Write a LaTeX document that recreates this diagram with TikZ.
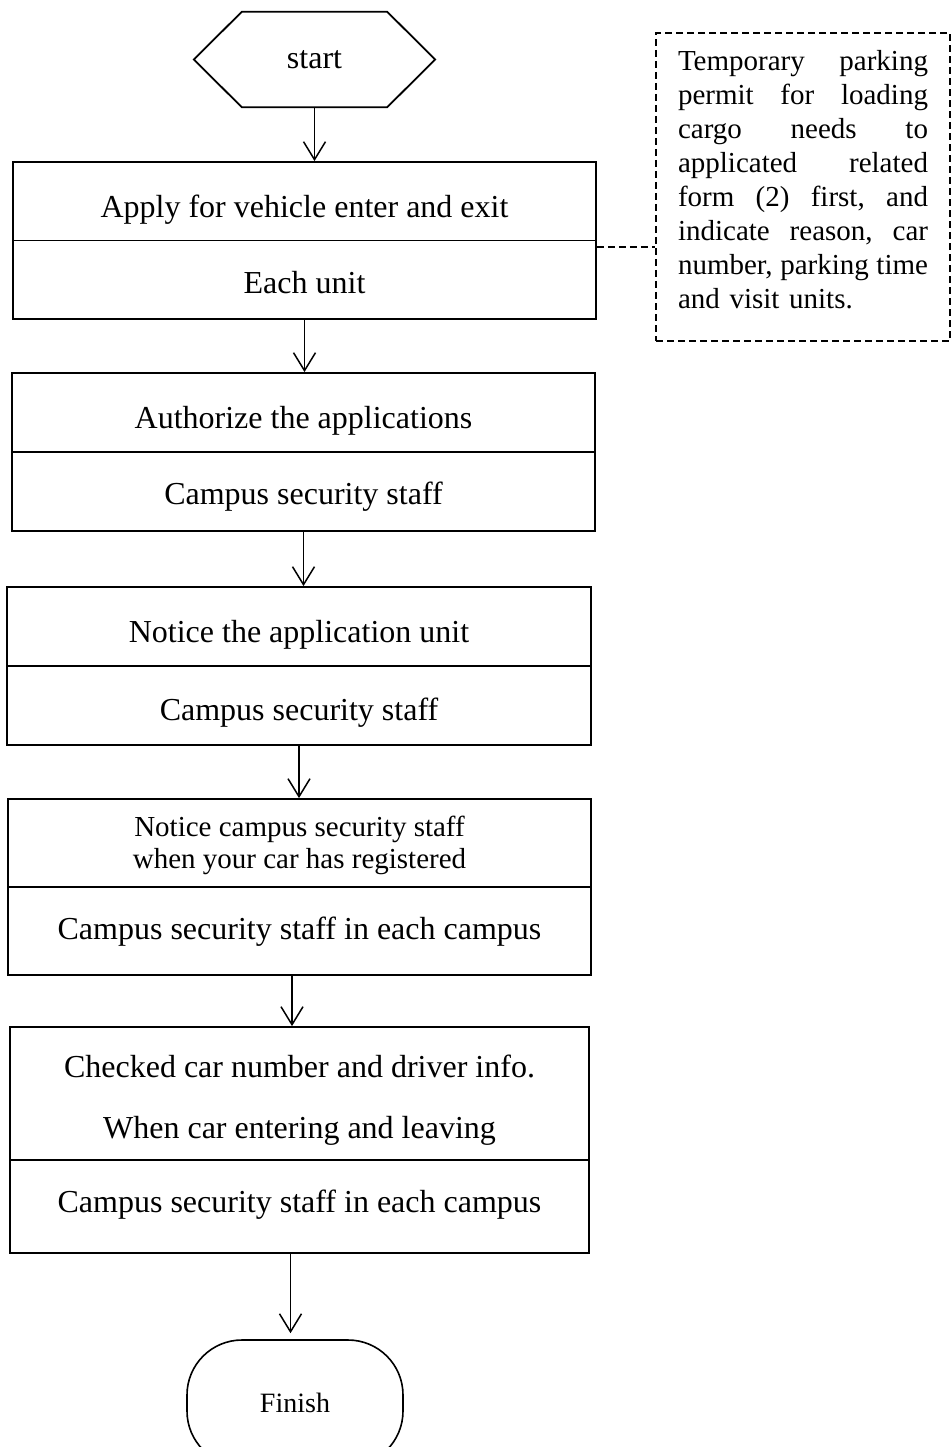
\documentclass[tikz,border=0pt]{standalone}
\usepackage{fontspec}
\setmainfont{Liberation Serif}
\usetikzlibrary{arrows.meta}
\newcommand{\jline}[1]{\makebox[250pt][l]{#1}}
\begin{document}
\begin{tikzpicture}[x=1pt,y=-1pt,
  box/.style={draw, line width=1.8pt, inner sep=0pt},
  cell/.style={line width=1.8pt},
  txt/.style={font=\fontsize{32}{38}\selectfont, text height=22pt, text depth=7pt, inner sep=0pt},
  smalltxt/.style={font=\fontsize{29}{32}\selectfont, align=center, inner sep=0pt},
  flow/.style={line width=1.5pt, -{Straight Barb[length=18pt,width=22pt,line width=1.5pt]}},
  notebox/.style={draw, dash pattern=on 7pt off 4pt, line width=1.3pt, inner sep=0pt},
  notelink/.style={dash pattern=on 7pt off 4pt, line width=1.3pt}
]
\useasboundingbox[fill=white] (0,0) rectangle (952,1447);

% start hexagon
\node[inner sep=0pt, minimum width=241pt, minimum height=95pt, font=\fontsize{32}{38}\selectfont] (start) at (314.5,59.5) {start};
\draw[cell] (start.west) -- ([xshift=48pt]start.north west) -- ([xshift=-48pt]start.north east)
  -- (start.east) -- ([xshift=-48pt]start.south east) -- ([xshift=48pt]start.south west) -- cycle;

% boxes
\node[box, minimum width=583pt, minimum height=157pt] (b1) at (304.5,240.5) {};
\draw[cell] (b1.west) -- (b1.east);
\node[txt] (t1a) at (304.5,210) {Apply for vehicle enter and exit};
\node[txt] (t1b) at (304.5,286) {Each unit};

\node[box, minimum width=583pt, minimum height=158pt] (b2) at (303.5,452) {};
\draw[cell] (b2.west) -- (b2.east);
\node[txt] (t2a) at (303.5,421) {Authorize the applications};
\node[txt] (t2b) at (303.5,497) {Campus security staff};

\node[box, minimum width=584pt, minimum height=158pt] (b3) at (299,666) {};
\draw[cell] (b3.west) -- (b3.east);
\node[txt] (t3a) at (299,635) {Notice the application unit};
\node[txt] (t3b) at (299,713) {Campus security staff};

\node[box, minimum width=583pt, minimum height=176pt] (b4) at (299.5,887) {};
\draw[cell] (b4.west) -- (b4.east);
\node[smalltxt] (t4a) at (299.5,845) {Notice campus security staff\\when your car has registered};
\node[txt] (t4b) at (299.5,932) {Campus security staff in each campus};

\node[box, minimum width=579pt, minimum height=226pt] (b5) at (299.5,1140) {};
\draw[cell] ([yshift=-20pt]b5.west) -- ([yshift=-20pt]b5.east);
\node[txt] (t5a) at (299.5,1070) {Checked car number and driver info.};
\node[txt] (t5b) at (299.5,1131) {When car entering and leaving};
\node[txt] (t5c) at (299.5,1205) {Campus security staff in each campus};

% finish
\node[draw, line width=1.6pt, rounded corners=55pt, minimum width=216pt, minimum height=126pt,
  font=\fontsize{28}{34}\selectfont] (fin) at (295,1403) {Finish};

% note
\node[notebox, minimum width=294pt, minimum height=308pt] (note) at (803,187) {};
\node[inner sep=0pt, text width=250pt, align=left, font=\fontsize{29}{34}\selectfont] (notetext) at (803,180)
 {\jline{Temporary\hfill parking}\\
  \jline{permit\hfill for\hfill loading}\\
  \jline{cargo\hfill needs\hfill to}\\
  \jline{applicated\hfill related}\\
  \jline{form\hfill (2)\hfill first,\hfill and}\\
  \jline{indicate\hfill reason,\hfill car}\\
  \jline{number,\hfill parking\hfill time}\\
  \jline{and visit units.\hfill}};
\coordinate (nc) at (note.west |- 0,247);
\draw[notelink] (b1.east |- nc) -- (nc);

% connectors
\draw[flow] (start.south) -- (start.south |- b1.north);
\draw[flow] (b1.south) -- (b1.south |- b2.north);
\draw[flow] (b2.south) -- (b2.south |- b3.north);
\draw[flow] (b3.south) -- (b3.south |- b4.north);
\draw[flow] ([xshift=-7.5pt]b4.south) -- ([xshift=-7.5pt]b4.south |- b5.north);
\draw[flow] ([xshift=-4.5pt]fin.north |- b5.south) -- ([xshift=-4.5pt,yshift=6pt]fin.north);
\end{tikzpicture}
\end{document}
